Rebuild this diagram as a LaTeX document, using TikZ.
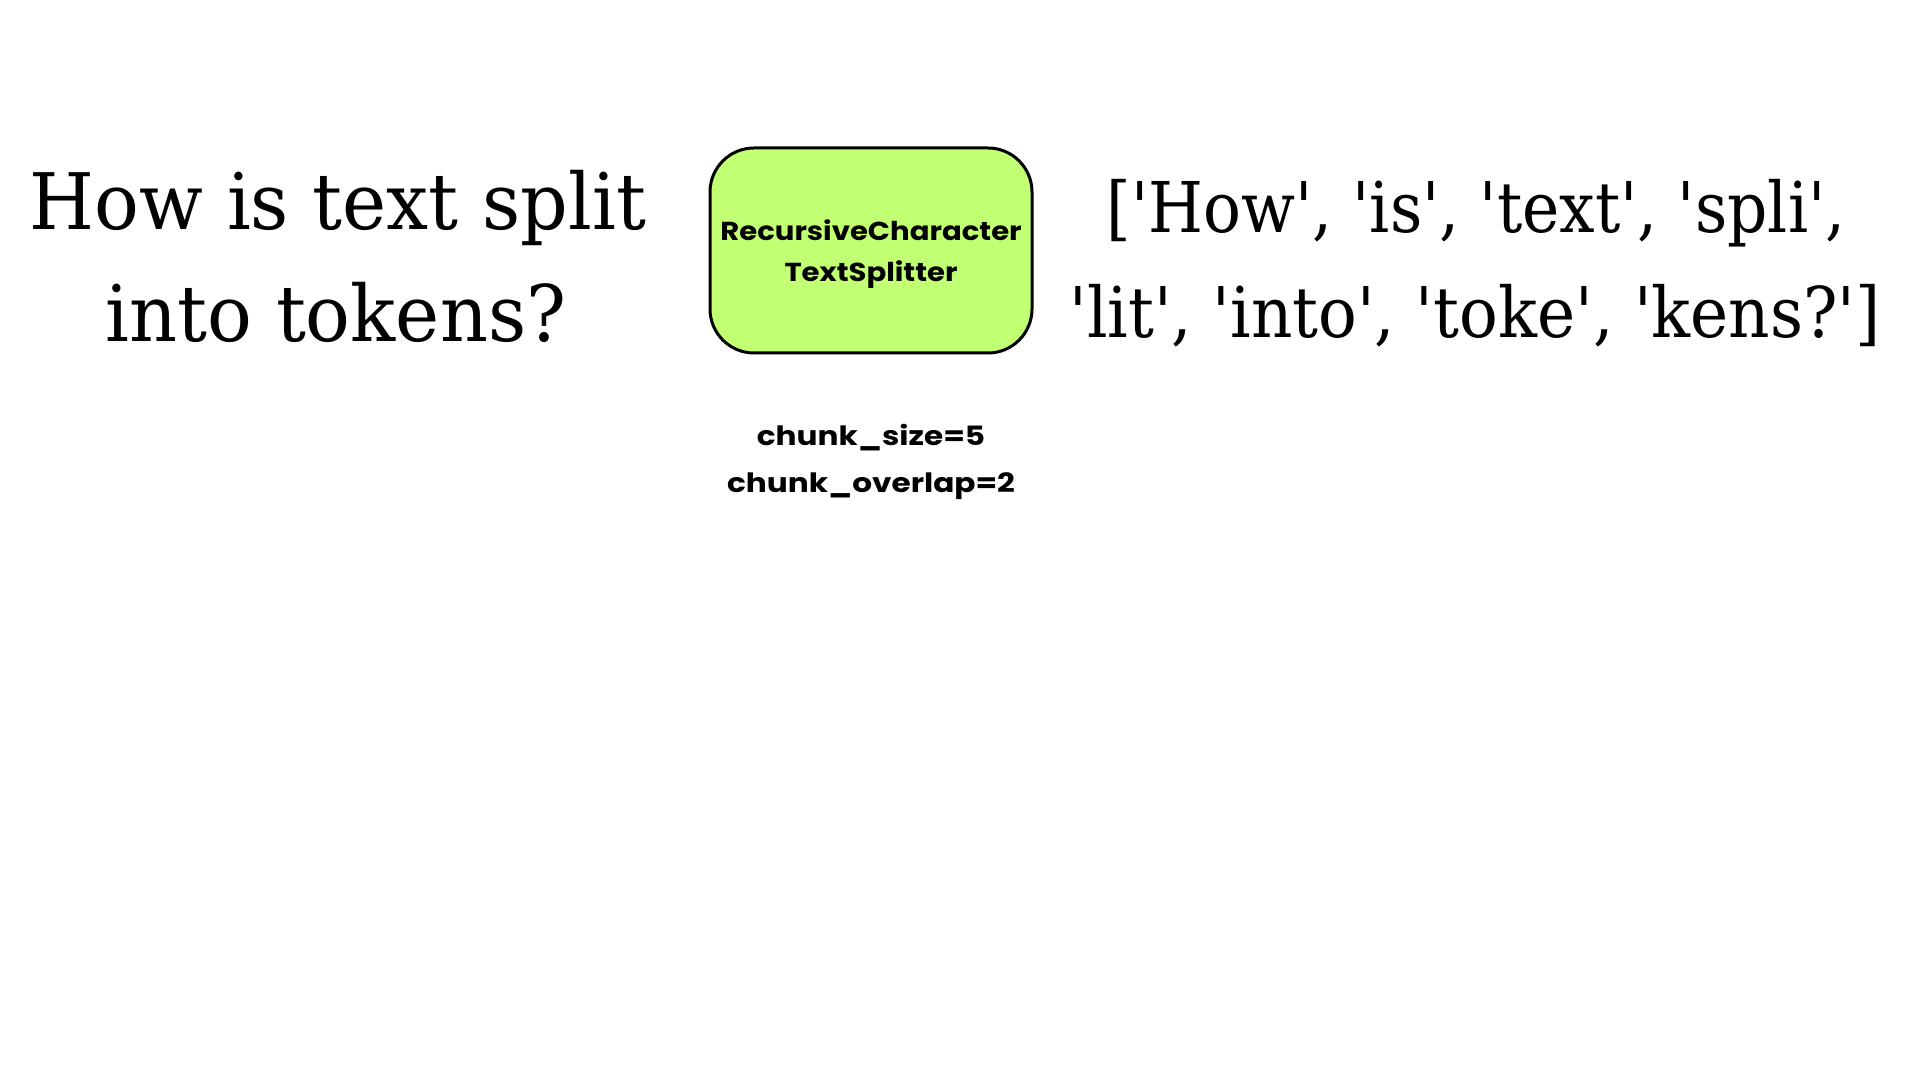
\documentclass[tikz,border=0pt]{standalone}
\usepackage{fontspec}
\newfontfamily\serif{DejaVu Serif}
\newfontfamily\boxfont{Poppins}
\definecolor{boxgreen}{RGB}{193,255,115}
\begin{document}
\begin{tikzpicture}[x=0.5pt,y=-0.5pt,
  bigtext/.style={font=\serif\fontsize{39}{56}\selectfont, inner sep=0pt, anchor=base},
  listtext/.style={font=\serif\fontsize{35}{52}\selectfont, inner sep=0pt, anchor=base},
  splitter/.style={draw=black, line width=1.5pt, fill=boxgreen, rounded corners=22pt,
    minimum width=161pt, minimum height=102.5pt, inner sep=0pt},
  splitlabel/.style={font=\boxfont\bfseries\fontsize{13}{20.5}\selectfont, align=center, inner sep=0pt},
  param/.style={font=\boxfont\bfseries\fontsize{13.3}{19.5}\selectfont, inner sep=0pt, anchor=base}]
\useasboundingbox (0,0) rectangle (1920,1080);
\node[bigtext] (q1) at (338,230) {\scalebox{0.955}[1]{How is text split}};
\node[bigtext] (q2) at (336,342) {\scalebox{0.955}[1]{into tokens?}};
\node[splitter] (split) at (871,250.5) {};
\node[splitlabel] (splittext) at (871,254) {\scalebox{1.12}[1]{RecursiveCharacter}\\\scalebox{1.12}[1]{TextSplitter}};
\node[param] (p1) at (871,445) {\scalebox{1.17}[1]{chunk\_size=5}};
\node[param] (p2) at (871,492) {\scalebox{1.17}[1]{chunk\_overlap=2}};
\node[listtext] (r1) at (1476,233) {\scalebox{0.9}[1]{['How', 'is', 'text', 'spli',}};
\node[listtext] (r2) at (1475,337) {\scalebox{0.92}[1]{'lit', 'into', 'toke', 'kens?']}};
\end{tikzpicture}
\end{document}
